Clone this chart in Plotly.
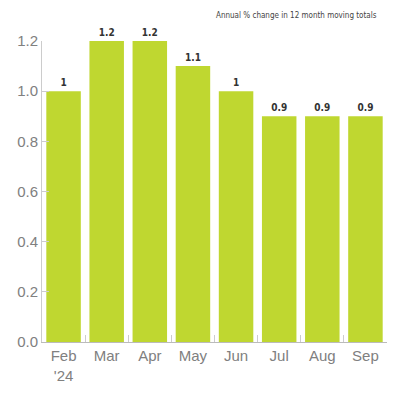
import plotly.graph_objects as go

# Data
months = ["Feb<br>'24", "Mar", "Apr", "May", "Jun", "Jul", "Aug", "Sep"]
values = [1.0, 1.2, 1.2, 1.1, 1.0, 0.9, 0.9, 0.9]
value_labels = ["1", "1.2", "1.2", "1.1", "1", "0.9", "0.9", "0.9"]
y_ticks = [0.0, 0.2, 0.4, 0.6, 0.8, 1.0, 1.2]

BAR_COLOR = "#bfd730"
NARROW = "DejaVu Sans Condensed, Liberation Sans Narrow, sans-serif"

fig = go.Figure()

fig.add_trace(go.Bar(
    x=months,
    y=values,
    marker=dict(color=BAR_COLOR, line=dict(width=0)),
    text=value_labels,
    textposition="outside",
    cliponaxis=False,
    textfont=dict(size=10, color="#333", family=NARROW, weight="bold"),
    hoverinfo="skip",
))

fig.update_xaxes(
    automargin=False,
    showline=True, linecolor="#bbb", linewidth=1,
    ticks="inside", ticklen=7, tickcolor="#ccc",
    tickson="boundaries",
    tickfont=dict(size=15, color="#808080", family="Liberation Sans, Arial, sans-serif"),
    showgrid=False,
)

fig.update_yaxes(
    automargin=False,
    range=[0, 1.2],
    tickvals=y_ticks,
    ticktext=[f"{v:.1f}" for v in y_ticks],
    showline=True, linecolor="#ccc", linewidth=1,
    ticks="inside", ticklen=7, tickcolor="#ccc",
    tickfont=dict(size=15, color="#808080", family="Liberation Sans, Arial, sans-serif"),
    showgrid=False, zeroline=False,
)

# page body adds an 8px offset, so the figure is 392px and margins are trimmed
fig.update_layout(
    width=392, height=392,
    margin=dict(l=34, r=13, t=33, b=58),
    plot_bgcolor="white", paper_bgcolor="white",
    bargap=0.2,
    showlegend=False,
    annotations=[dict(
        text="Annual % change in 12 month moving totals",
        xref="paper", yref="paper",
        x=0.976, y=1.0, yshift=26,
        xanchor="right", yanchor="middle",
        showarrow=False,
        font=dict(size=8, color="#444", family=NARROW),
    )],
)

fig.write_html("out.html")
